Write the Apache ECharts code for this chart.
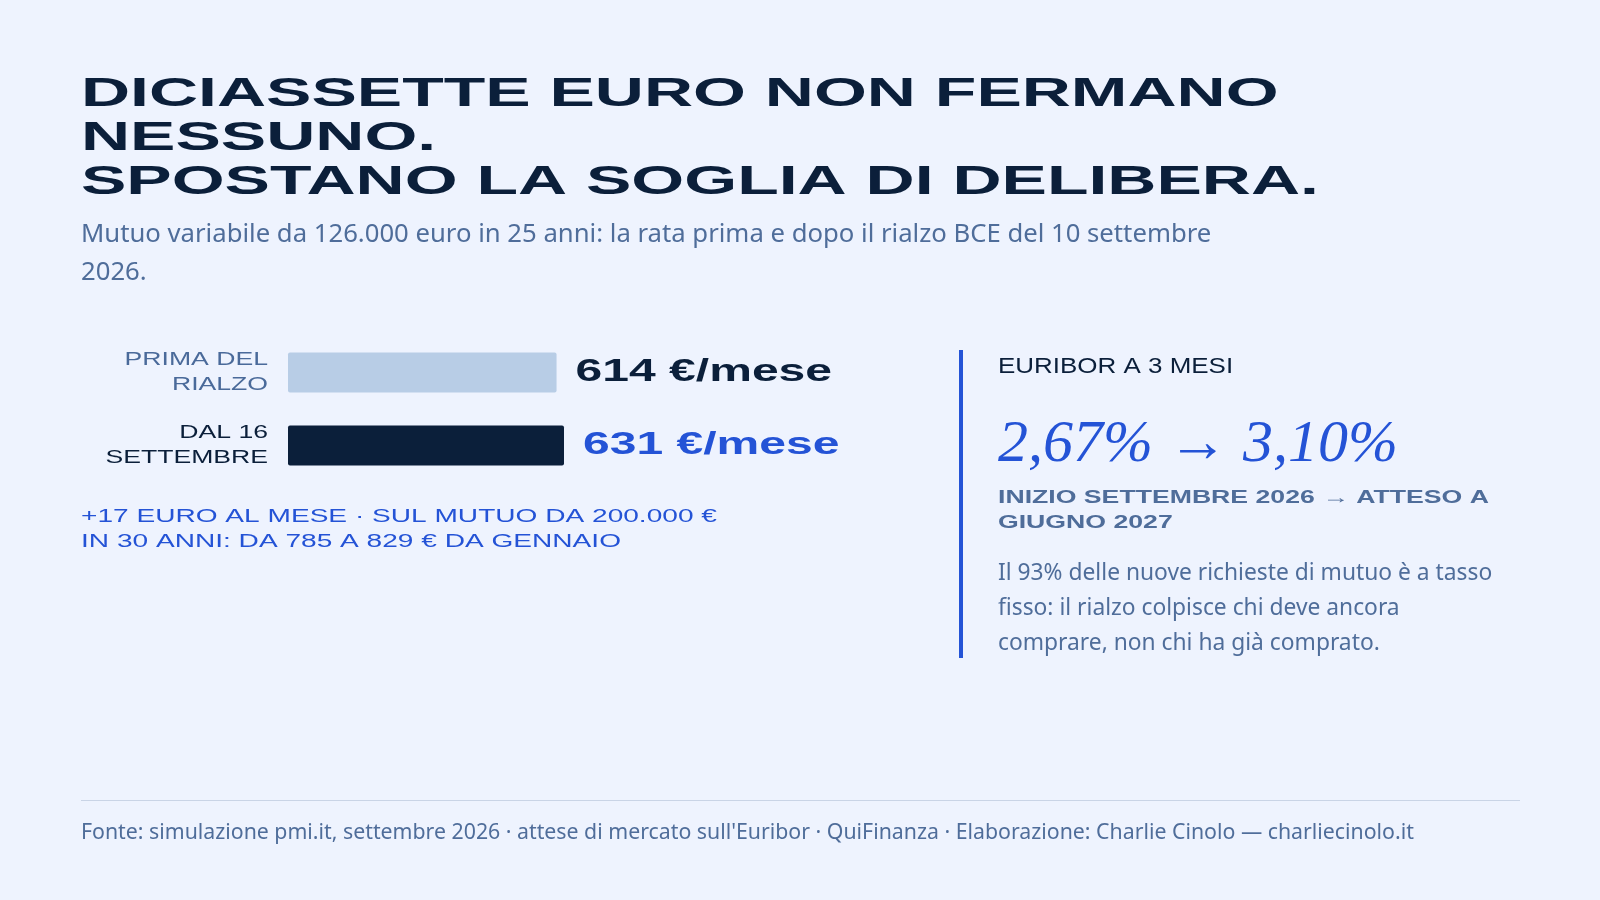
<!doctype html>
<html>
<head>
<meta charset="utf-8">
<script src="https://cdn.jsdelivr.net/npm/echarts@6/dist/echarts.min.js"></script>
<style>html,body{margin:0;background:#eef3fe}#main{width:1600px;height:900px}</style>
</head>
<body>
<div id="main"></div>
<script>
var categories = ['PRIMA DEL\nRIALZO', 'DAL 16\nSETTEMBRE'];
var rata = [614, 631];
var barColors = ['#b8cde6', '#0b1f3a'];
var labelColors = ['#0b1f3a', '#2453d6'];
var catColors = ['#4a6a9a', '#0b1f3a'];

var chart = echarts.init(document.getElementById('main'));
var navy = '#0b1f3a', blue = '#2453d6', grey = '#4f6d9a';

function t(x, y, text, style, extra) {
    return Object.assign({ type: 'text', x: x, y: y, style: Object.assign({ text: text }, style) }, extra || {});
}
var titleStyle = { font: '900 40px "Liberation Sans"', fill: navy };

var graphics = [
    t(81, 75, 'DICIASSETTE EURO NON FERMANO', titleStyle, { scaleX: 1.70 }),
    t(81, 119, 'NESSUNO.', titleStyle, { scaleX: 1.70 }),
    t(81, 163, 'SPOSTANO LA SOGLIA DI DELIBERA.', titleStyle, { scaleX: 1.70 }),
    t(81, 222, 'Mutuo variabile da 126.000 euro in 25 anni: la rata prima e dopo il rialzo BCE del 10 settembre', { font: '25.7px "Noto Sans"', fill: grey }),
    t(81, 260, '2026.', { font: '25.7px "Noto Sans"', fill: grey }),
    t(81, 508, '+17 EURO AL MESE · SUL MUTUO DA 200.000 €', { font: '18px "Liberation Sans"', fill: blue }, { scaleX: 1.56 }),
    t(81, 533, 'IN 30 ANNI: DA 785 A 829 € DA GENNAIO', { font: '18px "Liberation Sans"', fill: blue }, { scaleX: 1.56 }),
    { type: 'rect', shape: { x: 959, y: 350, width: 4, height: 308 }, style: { fill: blue } },
    t(998, 356, 'EURIBOR A 3 MESI', { font: '22px "Liberation Sans"', fill: navy }, { scaleX: 1.18 }),
    t(998, 415, '2,67% → 3,10%', { font: 'italic 60px "Liberation Serif"', fill: blue }),
    t(998, 489, 'INIZIO SETTEMBRE 2026 → ATTESO A', { font: 'bold 18px "Liberation Sans"', fill: grey }, { scaleX: 1.48 }),
    t(998, 514, 'GIUGNO 2027', { font: 'bold 18px "Liberation Sans"', fill: grey }, { scaleX: 1.48 }),
    t(998, 556, 'Il 93% delle nuove richieste di mutuo è a tasso\nfisso: il rialzo colpisce chi deve ancora\ncomprare, non chi ha già comprato.', { font: '22.8px "Noto Sans"', fill: grey, lineHeight: 35 }),
    { type: 'rect', shape: { x: 81, y: 800, width: 1439, height: 1 }, style: { fill: '#c9d4e6' } },
    t(81, 822, 'Fonte: simulazione pmi.it, settembre 2026 · attese di mercato sull\'Euribor · QuiFinanza · Elaborazione: Charlie Cinolo — charliecinolo.it', { font: '21.3px "Noto Sans"', fill: grey })
];

chart.setOption({
    backgroundColor: '#eef3fe',
    grid: { left: 288, top: 336, width: 276, height: 146 },
    xAxis: { type: 'value', min: 0, max: 631, show: false },
    yAxis: {
        type: 'category', data: categories, inverse: true,
        axisLine: { show: false }, axisTick: { show: false }, axisLabel: { show: false }
    },
    series: [{
        type: 'bar', barWidth: 40, silent: true,
        data: rata.map(function (v, i) {
            return { value: v, itemStyle: { color: barColors[i], borderRadius: 2 } };
        })
    }]
});

// category and value labels placed from the axis scales
categories.forEach(function (c, i) {
    var p = chart.convertToPixel({ gridIndex: 0 }, [0, i]);
    var e = chart.convertToPixel({ gridIndex: 0 }, [rata[i], i]);
    graphics.push(t(p[0] - 20, p[1], c, {
        font: '19px "Liberation Sans"', fill: catColors[i], align: 'right', verticalAlign: 'middle', lineHeight: 25
    }, { scaleX: 1.4 }));
    graphics.push(t(e[0] + 19, p[1], rata[i] + ' €/mese', {
        font: '900 31px "Liberation Sans"', fill: labelColors[i], verticalAlign: 'middle'
    }, { scaleX: 1.55 }));
});
chart.setOption({ graphic: graphics });
</script>
</body>
</html>
